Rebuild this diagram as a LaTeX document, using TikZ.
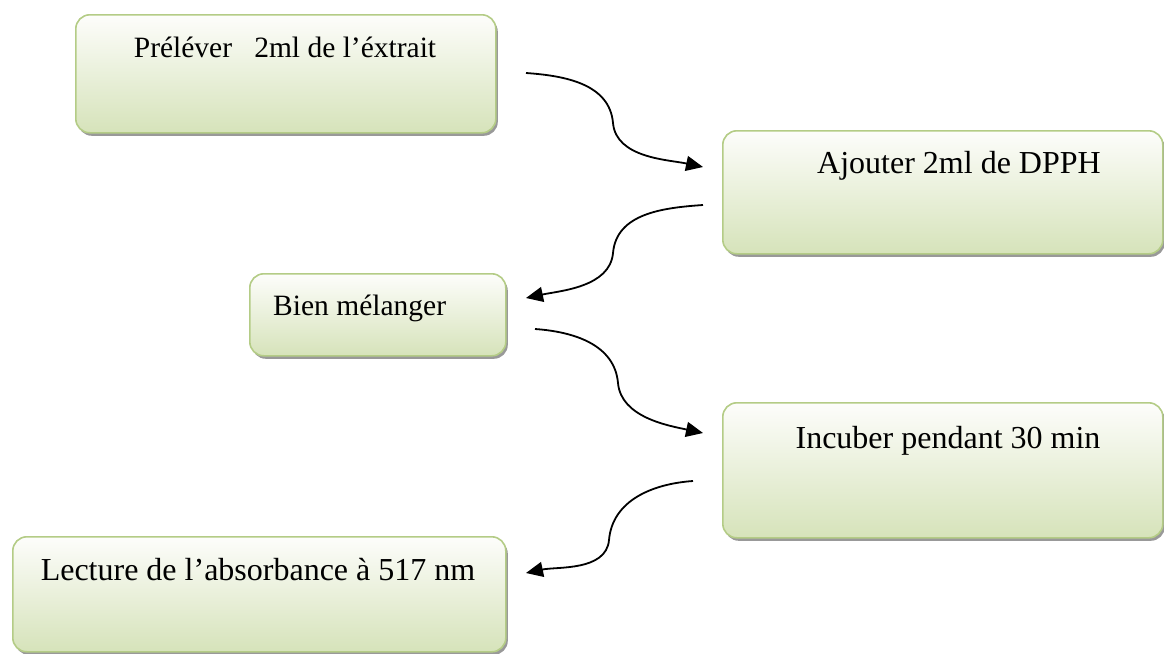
\documentclass[tikz,border=0pt]{standalone}
\usepackage{fontspec}
\setmainfont{Liberation Serif}
\usetikzlibrary{arrows.meta,shadows}
\definecolor{boxedge}{HTML}{B4CC86}
\definecolor{boxtop}{HTML}{FDFDFB}
\definecolor{boxbottom}{HTML}{D6E3BA}
\tikzset{
  stepbox/.style={draw=boxedge, line width=1.6pt, rounded corners=14pt,
    top color=boxtop, bottom color=boxbottom, anchor=north west, inner sep=0pt,
    drop shadow={shadow xshift=2pt, shadow yshift=-3pt, fill=black!50, opacity=0.8}},
  steptext/.style={anchor=base, font=\fontsize{32}{38}\selectfont, inner sep=0pt},
  flow/.style={line width=1.8pt, -{Triangle[length=17pt,width=15pt]}}
}
\begin{document}
\begin{tikzpicture}[x=1pt,y=-1pt]
\useasboundingbox (0,0) rectangle (1164,653);
% process boxes
\node[stepbox, minimum width=420pt, minimum height=118pt] (b1) at (75,14) {};
\node[stepbox, minimum width=440pt, minimum height=123pt] (b2) at (722,130) {};
\node[stepbox, minimum width=256pt, minimum height=82pt]  (b3) at (249,273) {};
\node[stepbox, minimum width=440pt, minimum height=135pt] (b4) at (722,402) {};
\node[stepbox, minimum width=493pt, minimum height=115pt] (b5) at (12,536) {};
% box captions
\node[steptext, font=\fontsize{29.5}{36}\selectfont] (t1) at (285,57) {Préléver\ \ \ 2ml de l’éxtrait};
\node[steptext] (t2) at (959,173) {Ajouter 2ml de DPPH};
\node[steptext, anchor=base west, font=\fontsize{29.5}{36}\selectfont] (t3) at (273,315) {Bien mélanger};
\node[steptext] (t4) at (948,448) {Incuber pendant 30 min};
\node[steptext] (t5) at (258,580) {Lecture de l’absorbance à 517 nm};
% connector end points
\coordinate (a1s) at (526,73);  \coordinate (a1m) at (613,123); \coordinate (a1e) at (703,167);
\coordinate (a2s) at (703,205); \coordinate (a2m) at (613,253); \coordinate (a2e) at (526,298);
\coordinate (a3s) at (535,329); \coordinate (a3m) at (618,383); \coordinate (a3e) at (703,433);
\coordinate (a4s) at (693,481); \coordinate (a4m) at (609,540); \coordinate (a4e) at (526,573);
% S-shaped connectors
\draw[flow] (a1s) to[out=-4,in=95] (a1m) to[out=-85,in=168,looseness=0.9] (a1e);
\draw[flow] (a2s) to[out=184,in=85] (a2m) to[out=-95,in=12,looseness=0.9] (a2e);
\draw[flow] (a3s) to[out=-4,in=95] (a3m) to[out=-85,in=168,looseness=0.9] (a3e);
\draw[flow] (a4s) to[out=184,in=85] (a4m) to[out=-95,in=12,looseness=0.9] (a4e);
\end{tikzpicture}
\end{document}
